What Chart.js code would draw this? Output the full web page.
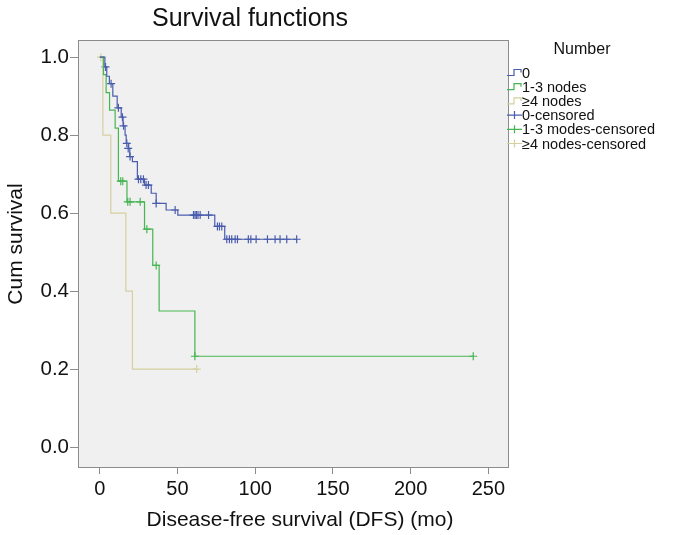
<!DOCTYPE html>
<html>
<head>
<meta charset="utf-8">
<script src="https://cdn.jsdelivr.net/npm/chart.js@4.4.1/dist/chart.umd.min.js"></script>
<style>
  html, body { margin: 0; padding: 0; background: #fff; }
  #wrap { width: 674px; height: 535px; }
</style>
</head>
<body>
<div id="wrap"><canvas id="kmChart" width="674" height="535"></canvas></div>
<script>
// tick labels
var xTicks = [0, 50, 100, 150, 200, 250];
var yTicks = [0.0, 0.2, 0.4, 0.6, 0.8, 1.0];

// group "0" - survival steps
var t0 = [0, 3.3, 4.5, 6.2, 8.4, 11.2, 13.8, 15.0, 16.3, 17.0, 18.6, 19.3, 21.0, 24.2, 28.8, 33.1, 36.3, 42.7, 50.2, 74.0, 80.4, 126.7];
var s0 = [1.0, 0.975, 0.951, 0.932, 0.900, 0.870, 0.846, 0.824, 0.800, 0.779, 0.766, 0.745, 0.732, 0.687, 0.672, 0.651, 0.625, 0.608, 0.595, 0.566, 0.533, 0.533];
// group "0" - censored
var c0x = [3.7, 7.3, 12.0, 14.6, 15.3, 17.4, 18.3, 19.5, 24.9, 26.4, 28.1, 29.8, 31.3, 36.3, 48.5, 60.3, 61.3, 62.2, 63.2, 64.6, 70.0, 75.7, 77.0, 78.5, 81.7, 83.4, 84.9, 87.1, 88.6, 95.6, 97.2, 100.6, 107.9, 112.8, 116.0, 120.3, 126.7];
var c0y = [0.975, 0.932, 0.870, 0.846, 0.824, 0.779, 0.766, 0.745, 0.687, 0.687, 0.687, 0.672, 0.672, 0.625, 0.608, 0.595, 0.595, 0.595, 0.595, 0.595, 0.595, 0.566, 0.566, 0.566, 0.533, 0.533, 0.533, 0.533, 0.533, 0.533, 0.533, 0.533, 0.533, 0.533, 0.533, 0.533, 0.533];

// group "1-3 nodes"
var t1 = [0, 2.4, 4.1, 6.3, 9.9, 12.0, 17.5, 28.8, 34.1, 38.2, 61.2, 240.3];
var s1 = [1.0, 0.955, 0.909, 0.864, 0.818, 0.682, 0.629, 0.559, 0.466, 0.349, 0.233, 0.233];
var c1x = [13.5, 14.8, 18.0, 19.5, 26.0, 30.3, 36.3, 61.2, 240.3];
var c1y = [0.682, 0.682, 0.629, 0.629, 0.629, 0.559, 0.466, 0.233, 0.233];

// group ">=4 nodes"
var t2 = [0, 2.0, 7.1, 16.8, 21.0, 62.4];
var s2 = [1.0, 0.8, 0.6, 0.4, 0.2, 0.2];
var c2x = [0.7, 62.4];
var c2y = [1.0, 0.2];

var labels = ['0', '1-3 nodes', '\u22654 nodes', '0-censored', '1-3 modes-censored', '\u22654 nodes-censored'];
var colors = ['#4a5cad', '#47b552', '#d5d0a0'];

function pts(xs, ys) {
    return xs.map(function (x, i) { return { x: x, y: ys[i] }; });
}

function stepSet(label, xs, ys, color) {
    return {
        label: label,
        data: pts(xs, ys),
        borderColor: color,
        backgroundColor: color,
        borderWidth: 1.2,
        stepped: 'before',
        pointRadius: 0,
        showLine: true,
        fill: false
    };
}

function censorSet(label, xs, ys, color) {
    return {
        label: label,
        data: pts(xs, ys),
        borderColor: color,
        backgroundColor: color,
        pointStyle: 'cross',
        pointRadius: 4,
        pointBorderWidth: 1.2,
        showLine: false
    };
}

var font = "'Liberation Sans', Arial, Helvetica, sans-serif";

// grey plot area with frame, titles
var plotBg = {
    id: 'plotBg',
    beforeDraw: function (chart) {
        var a = chart.chartArea, ctx = chart.ctx;
        ctx.save();
        ctx.fillStyle = '#f0f0f0';
        ctx.fillRect(a.left, a.top, a.right - a.left, a.bottom - a.top);
        ctx.restore();
    },
    afterDraw: function (chart) {
        var a = chart.chartArea, ctx = chart.ctx;
        ctx.save();
        ctx.strokeStyle = '#8c8c8c';
        ctx.lineWidth = 1;
        ctx.strokeRect(a.left + 0.5, a.top + 0.5, a.right - a.left - 1, a.bottom - a.top);
        ctx.fillStyle = '#111';
        ctx.textAlign = 'center';
        ctx.textBaseline = 'middle';
        ctx.font = '25px ' + font;
        ctx.fillText('Survival functions', 250, 19);
        ctx.font = '21px ' + font;
        ctx.fillText('Disease-free survival (DFS) (mo)', 300, 520);
        ctx.translate(16, 244);
        ctx.rotate(-Math.PI / 2);
        ctx.fillText('Cum survival', 0, 0);
        ctx.restore();
    }
};

// SPSS style legend on the right
var sideLegend = {
    id: 'sideLegend',
    afterDraw: function (chart) {
        var ctx = chart.ctx;
        var x0 = 512, y0 = 72.5, dy = 14.2;
        ctx.save();
        ctx.fillStyle = '#111';
        ctx.font = '16px ' + font;
        ctx.textAlign = 'center';
        ctx.textBaseline = 'middle';
        ctx.fillText('Number', 582, 50);
        ctx.font = '14.5px ' + font;
        ctx.textAlign = 'left';
        chart.data.datasets.forEach(function (ds, i) {
            var y = y0 + i * dy;
            ctx.strokeStyle = ds.borderColor;
            ctx.lineWidth = 1.2;
            ctx.beginPath();
            if (ds.showLine) {
                ctx.moveTo(x0 - 5, y + 3);
                ctx.lineTo(x0 + 2, y + 3);
                ctx.lineTo(x0 + 2, y - 3);
                ctx.lineTo(x0 + 9, y - 3);
                ctx.lineTo(x0 + 9, y);
            } else {
                ctx.moveTo(x0 - 5, y);
                ctx.lineTo(x0 + 10, y);
                ctx.moveTo(x0 + 2.5, y - 4);
                ctx.lineTo(x0 + 2.5, y + 4);
            }
            ctx.stroke();
            ctx.fillStyle = '#111';
            ctx.fillText(ds.label, x0 + 10, y + 1);
        });
        ctx.restore();
    }
};

var ctx = document.getElementById('kmChart').getContext('2d');
new Chart(ctx, {
    type: 'scatter',
    data: {
        datasets: [
            stepSet(labels[0], t0, s0, colors[0]),
            stepSet(labels[1], t1, s1, colors[1]),
            stepSet(labels[2], t2, s2, colors[2]),
            censorSet(labels[3], c0x, c0y, colors[0]),
            censorSet(labels[4], c1x, c1y, colors[1]),
            censorSet(labels[5], c2x, c2y, colors[2])
        ]
    },
    options: {
        responsive: false,
        animation: false,
        layout: { padding: { left: 0, top: 40, right: 165, bottom: 0 } },
        plugins: {
            legend: { display: false },
            title: { display: false },
            tooltip: { enabled: false }
        },
        scales: {
            x: {
                type: 'linear',
                min: -14,
                max: 263.3,
                afterBuildTicks: function (scale) {
                    scale.ticks = xTicks.map(function (v) { return { value: v }; });
                },
                afterFit: function (scale) { scale.height = 68; },
                border: { display: false },
                grid: { drawOnChartArea: false, drawTicks: true, tickLength: 7, color: '#8c8c8c', tickColor: '#8c8c8c' },
                ticks: { color: '#111', font: { family: font, size: 20 }, padding: 3 },
                title: { display: false }
            },
            y: {
                type: 'linear',
                min: -0.051,
                max: 1.044,
                afterBuildTicks: function (scale) {
                    scale.ticks = yTicks.map(function (v) { return { value: v }; });
                },
                afterFit: function (scale) { scale.width = 78; },
                border: { display: false },
                grid: { drawOnChartArea: false, drawTicks: true, tickLength: 8, color: '#8c8c8c', tickColor: '#8c8c8c' },
                ticks: {
                    color: '#111',
                    font: { family: font, size: 20.5 },
                    padding: 1,
                    callback: function (v) { return v.toFixed(1); }
                },
                title: { display: false }
            }
        }
    },
    plugins: [plotBg, sideLegend]
});
</script>
</body>
</html>
